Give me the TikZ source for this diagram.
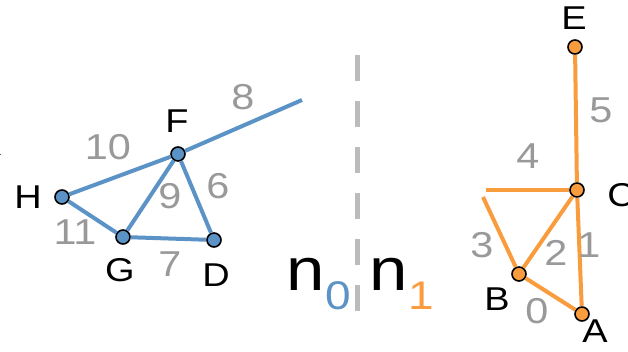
\documentclass[tikz,border=0pt]{standalone}
\usepackage{fontspec}
\setmainfont[FakeStretch=1.15]{Liberation Sans}
\definecolor{bl}{HTML}{5B93C7}
\definecolor{orr}{HTML}{F89C3E}
\definecolor{lbl}{HTML}{999999}
\definecolor{dashgray}{HTML}{BBBBBB}
\tikzset{
  vb/.style={circle,draw=black,line width=1.6pt,fill=bl,minimum size=14pt,inner sep=0pt},
  vo/.style={circle,draw=black,line width=1.6pt,fill=orr,minimum size=14pt,inner sep=0pt},
  eb/.style={draw=bl,line width=4pt},
  eo/.style={draw=orr,line width=4pt},
  vlab/.style={font=\fontsize{33}{33}\selectfont,inner sep=0pt,text=black},
  elab/.style={font=\fontsize{36}{36}\selectfont,inner sep=0pt,text=lbl},
}
\begin{document}
\begin{tikzpicture}[x=1pt,y=-1pt]
\useasboundingbox (0,0) rectangle (628,351);
\clip (0,0) rectangle (628,351);
% left clipped fragment
\node[vlab] (frag) at (-11,144) {K};
% blue graph
\node[vb] (H) at (62,197) {};
\node[vb] (F) at (178,154) {};
\node[vb] (G) at (123,237) {};
\node[vb] (D) at (214,240) {};
\coordinate (F8) at (302,100);
\draw[eb] (H) -- (F);
\draw[eb] (F) -- (F8);
\draw[eb] (H) -- (G);
\draw[eb] (G) -- (F);
\draw[eb] (F) -- (D);
\draw[eb] (G) -- (D);
\node[vlab] (lF) at (177,121) {F};
\node[vlab] (lH) at (28,197) {H};
\node[vlab] (lG) at (120,270) {G};
\node[vlab] (lD) at (216,275) {D};
\node[elab] (l10) at (108,147) {10};
\node[elab] (l8) at (243,97) {8};
\node[elab] (l9) at (170,196) {9};
\node[elab] (l6) at (218,186) {6};
\node[elab] (l11) at (75,232) {11};
\node[elab] (l7) at (170,264) {7};
% divider
\coordinate (dtop) at (357,55);
\coordinate (dbot) at (357,312);
\draw[draw=dashgray,line width=5pt,dash pattern=on 26pt off 20pt] (dtop) -- (dbot);
\node[inner sep=0pt,font=\fontsize{60}{60}\selectfont] (n0) at (319,284) {n\textsubscript{\fontsize{40}{40}\selectfont\color{bl}0}};
\node[inner sep=0pt,font=\fontsize{60}{60}\selectfont] (n1) at (402,284) {n\textsubscript{\fontsize{40}{40}\selectfont\color{orr}1}};
% orange graph
\node[vo] (E) at (575,47) {};
\node[vo] (C) at (577,190) {};
\node[vo] (B) at (519,274) {};
\node[vo] (A) at (582,314) {};
\coordinate (C4) at (486,190);
\coordinate (B3) at (483,197);
\draw[eo] (E) -- (C);
\draw[eo] (C) -- (C4);
\draw[eo] (B) -- (B3);
\draw[eo] (C) -- (B);
\draw[eo] (C) -- (A);
\draw[eo] (B) -- (A);
\node[vlab] (lE) at (574,18) {E};
\node[vlab] (lC) at (621,195) {C};
\node[vlab] (lB) at (497,299) {B};
\node[vlab] (lA) at (595,331) {A};
\node[elab] (l5) at (601,110) {5};
\node[elab] (l4) at (528,156) {4};
\node[elab] (l3) at (482,245) {3};
\node[elab] (l2) at (556,253) {2};
\node[elab] (l1) at (589,245) {1};
\node[elab] (l0) at (537,311) {0};
\end{tikzpicture}
\end{document}
